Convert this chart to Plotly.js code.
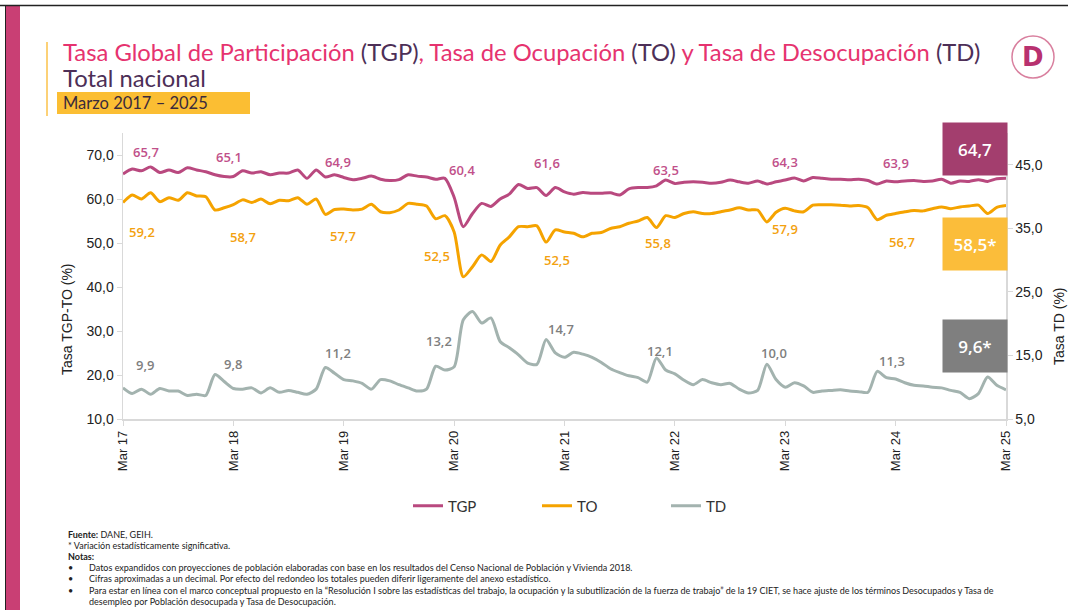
<!DOCTYPE html>
<html>
<head>
<meta charset="utf-8">
<script src="https://cdn.plot.ly/plotly-3.0.1.min.js"></script>
<style>
html,body{margin:0;padding:0;background:#fff;}
#chart{width:1068px;height:610px;}
</style>
</head>
<body>
<div id="chart"></div>
<script>
// ---------------- DATA ----------------
const monthNames = ['Ene','Feb','Mar','Abr','May','Jun','Jul','Ago','Sep','Oct','Nov','Dic'];
const startYear = 2017, startMonth = 2, nMonths = 97;   // Mar 2017 .. Mar 2025
const categories = [];
for (let k = 0; k < nMonths; k++) {
  const m = (startMonth + k) % 12;
  const y = startYear + Math.floor((startMonth + k) / 12);
  categories.push(monthNames[m] + ' ' + String(y).slice(2));
}
const tickLabels = ['Mar 17','Mar 18','Mar 19','Mar 20','Mar 21','Mar 22','Mar 23','Mar 24','Mar 25'];

const tgp = [
  65.7, 66.8, 66.4, 67.3, 66.0, 66.6, 66.0, 67.1, 66.6, 66.2, 65.5, 65.1,
  65.1, 66.4, 65.9, 66.2, 65.5, 65.9, 65.9, 66.6, 64.7, 66.6, 65.0, 65.5,
  64.9, 64.4, 64.7, 65.2, 64.5, 64.2, 64.4, 65.5, 65.2, 65.0, 64.5, 64.7,
  60.4, 53.7, 56.7, 59.0, 58.3, 60.0, 61.1, 63.3, 62.4, 62.6, 60.8, 62.6,
  61.6, 61.1, 61.5, 61.3, 61.3, 61.4, 60.9, 62.3, 62.6, 62.6, 63.0, 64.3,
  63.5, 63.8, 63.9, 63.8, 63.6, 63.8, 64.3, 63.9, 63.6, 64.1, 63.4, 63.9,
  64.3, 64.8, 64.1, 64.9, 64.7, 64.5, 64.5, 64.4, 64.5, 64.2, 63.4, 64.1,
  63.9, 64.1, 64.2, 64.0, 64.1, 64.5, 63.6, 64.1, 64.0, 64.4, 64.0, 64.6,
  64.7
];
const to = [
  59.2, 60.9, 60.0, 61.4, 59.4, 60.3, 59.7, 61.4, 60.7, 60.5, 57.5, 58.0,
  58.7, 59.8, 59.2, 60.0, 58.9, 59.7, 59.6, 60.3, 58.8, 60.0, 56.5, 57.6,
  57.7, 57.5, 57.7, 58.8, 57.1, 56.9, 57.5, 59.0, 58.8, 58.4, 55.5, 56.2,
  52.5, 42.3, 44.6, 47.3, 45.8, 49.5, 51.4, 53.7, 53.7, 53.9, 50.2, 53.0,
  52.5, 52.2, 51.4, 52.2, 52.4, 53.3, 53.7, 54.5, 55.0, 55.8, 53.5, 56.2,
  55.8, 56.7, 57.1, 56.7, 56.7, 57.1, 57.5, 58.0, 57.5, 57.5, 54.8, 57.0,
  57.9, 57.3, 57.1, 58.6, 58.7, 58.7, 58.6, 58.4, 58.5, 58.0, 55.3, 56.3,
  56.7, 57.1, 57.4, 57.3, 57.8, 58.2, 57.8, 58.2, 58.4, 58.6, 56.7, 58.1,
  58.5
];
const td = [
  9.9, 9.0, 9.7, 8.9, 9.8, 9.4, 9.4, 8.7, 8.9, 8.7, 12.0, 10.9,
  9.8, 9.7, 9.9, 9.1, 9.9, 9.2, 9.5, 9.2, 8.9, 9.7, 13.1, 12.2,
  11.2, 11.0, 10.6, 9.7, 11.2, 11.0, 10.4, 9.9, 9.4, 9.7, 13.3, 12.7,
  13.2, 20.6, 21.9, 20.1, 20.9, 17.2, 16.2, 15.1, 13.8, 13.6, 17.5, 15.4,
  14.7, 15.5, 15.2, 14.7, 13.9, 12.9, 12.3, 11.8, 11.5, 10.8, 14.6, 12.7,
  12.1, 11.1, 10.4, 11.2, 10.7, 10.4, 10.6, 9.7, 9.1, 9.5, 13.6, 11.2,
  10.0, 10.7, 10.2, 9.2, 9.4, 9.5, 9.6, 9.4, 9.3, 9.2, 12.5, 11.5,
  11.3, 10.7, 10.3, 10.2, 10.0, 9.9, 9.5, 9.2, 8.2, 9.0, 11.6, 10.3,
  9.6
];
const seriesNames = ['TGP','TO','TD'];
const significance = ['', '*', '*'];   // last-value marks
const labelMonths = ['Mar 17','Mar 18','Mar 19','Mar 20','Mar 21','Mar 22','Mar 23','Mar 24'];

// ---------------- STYLE ----------------
const C_TGP = '#b9497f', C_TO = '#f5a300', C_TD = '#a3b3af';
const C_TGP_LBL = '#c1508a', C_TO_LBL = '#f3a10f', C_TD_LBL = '#7f7f7f';
const W = 1068, H = 610, L = 123, R = 62, T = 133, B = 191;
const PW = W - L - R, PH = H - T - B;
const xp = px => (px - L) / PW;
const yp = py => (H - B - py) / PH;
const fmt = v => v.toFixed(1).replace('.', ',');

// label offsets (pixels) per labelled point
const tgpShift = [[23,22],[-4,20],[-6,15],[8,27],[-18,29],[-9,14],[0,18],[0,19]];
const toShift  = [[19,-29],[10,-32],[-1,-27],[-17,-24],[-8,-28],[-17,-26],[0,-21],[6,-28]];
const tdShift  = [[22,23],[0,24],[-6,27],[-15,26],[-4,28],[-15,23],[-11,34],[-4,18]];

const traces = [
  {x: categories, y: tgp, name: seriesNames[0], type: 'scatter', mode: 'lines',
   line: {color: C_TGP, width: 3, shape: 'spline', smoothing: 0.7}, yaxis: 'y'},
  {x: categories, y: to, name: seriesNames[1], type: 'scatter', mode: 'lines',
   line: {color: C_TO, width: 3, shape: 'spline', smoothing: 0.7}, yaxis: 'y'},
  {x: categories, y: td, name: seriesNames[2], type: 'scatter', mode: 'lines',
   line: {color: C_TD, width: 3, shape: 'spline', smoothing: 0.7}, yaxis: 'y2'}
];

const annotations = [];
const lblFont = (c) => ({family: 'Open Sans, sans-serif', size: 13, color: c, weight: 600});
labelMonths.forEach((m, k) => {
  const idx = categories.indexOf(m);
  annotations.push({x: m, y: tgp[idx], xref: 'x', yref: 'y', text: fmt(tgp[idx]), showarrow: false,
    xshift: tgpShift[k][0], yshift: tgpShift[k][1], font: lblFont(C_TGP_LBL)});
  annotations.push({x: m, y: to[idx], xref: 'x', yref: 'y', text: fmt(to[idx]), showarrow: false,
    xshift: toShift[k][0], yshift: toShift[k][1], font: lblFont(C_TO_LBL)});
  annotations.push({x: m, y: td[idx], xref: 'x', yref: 'y2', text: fmt(td[idx]), showarrow: false,
    xshift: tdShift[k][0], yshift: tdShift[k][1], font: lblFont(C_TD_LBL)});
});

// last value boxes
const lastVals = [tgp[tgp.length-1], to[to.length-1], td[td.length-1]];
const boxColors = ['#a33e6e', '#fbbd3a', '#7f7f7f'];
const boxCenters = [149, 243.5, 345.5];
lastVals.forEach((v, k) => {
  annotations.push({xref: 'paper', yref: 'paper', x: xp(975), y: yp(boxCenters[k]),
    xanchor: 'center', yanchor: 'middle', text: fmt(v) + significance[k], showarrow: false,
    bgcolor: boxColors[k], width: 60, height: 48, borderpad: 2,
    font: {family: 'Open Sans, sans-serif', size: 17, color: '#ffffff', weight: 600}});
});

// axis titles
annotations.push({xref: 'paper', yref: 'paper', x: xp(67), y: yp(319), xanchor: 'center', yanchor: 'middle',
  text: 'Tasa TGP-TO (%)', textangle: -90, showarrow: false,
  font: {family: 'Liberation Sans, Arial, sans-serif', size: 14, color: '#222'}});
annotations.push({xref: 'paper', yref: 'paper', x: xp(1059), y: yp(326), xanchor: 'center', yanchor: 'middle',
  text: 'Tasa TD (%)', textangle: -90, showarrow: false,
  font: {family: 'Liberation Sans, Arial, sans-serif', size: 14, color: '#222'}});

// titles
const pink = '#e6336f', dark = '#4d2f57';
annotations.push({xref: 'paper', yref: 'paper', x: xp(61), y: yp(52), xanchor: 'left', yanchor: 'middle',
  showarrow: false, font: {family: 'Lato, sans-serif', size: 23.8, color: pink},
  text: 'Tasa Global de Participación <span style="color:' + dark + '">(TGP)</span>, Tasa de Ocupación <span style="color:' + dark + '">(TO)</span> y Tasa de Desocupación <span style="color:' + dark + '">(TD)</span>'});
annotations.push({xref: 'paper', yref: 'paper', x: xp(61), y: yp(78), xanchor: 'left', yanchor: 'middle',
  showarrow: false, font: {family: 'Lato, sans-serif', size: 23.8, color: dark}, text: 'Total nacional'});
annotations.push({xref: 'paper', yref: 'paper', x: xp(61), y: yp(103), xanchor: 'left', yanchor: 'middle',
  showarrow: false, font: {family: 'Lato, sans-serif', size: 16.5, color: '#3a2a3c'}, text: 'Marzo 2017 – 2025'});
// logo
annotations.push({xref: 'paper', yref: 'paper', x: xp(1033), y: yp(57), xanchor: 'center', yanchor: 'middle',
  showarrow: false, font: {family: 'DejaVu Sans, sans-serif', size: 26, color: '#b8316f', weight: 700}, text: 'D'});

// footnotes
const fnFont = {family: 'Lato, sans-serif', size: 9, color: '#222'};
const notes = [
  [66, 534, '<b>Fuente:</b> DANE, GEIH.'],
  [66, 545, '* Variación estadísticamente significativa.'],
  [66, 556, '<b>Notas:</b>'],
  [87, 567, 'Datos expandidos con proyecciones de población elaboradas con base en los resultados del Censo Nacional de Población y Vivienda 2018.'],
  [87, 578, 'Cifras aproximadas a un decimal. Por efecto del redondeo los totales pueden diferir ligeramente del anexo estadístico.'],
  [87, 590, 'Para estar en línea con el marco conceptual propuesto en la “Resolución I sobre las estadísticas del trabajo, la ocupación y la subutilización de la fuerza de trabajo” de la 19 CIET, se hace ajuste de los términos Desocupados y Tasa de'],
  [87, 601, 'desempleo por Población desocupada y Tasa de Desocupación.']
];
notes.forEach(n => annotations.push({xref: 'paper', yref: 'paper', x: xp(n[0]), y: yp(n[1]), xanchor: 'left',
  yanchor: 'middle', showarrow: false, font: fnFont, text: n[2]}));
[567, 578, 590].forEach(py => annotations.push({xref: 'paper', yref: 'paper', x: xp(66), y: yp(py),
  xanchor: 'left', yanchor: 'middle', showarrow: false, font: fnFont, text: '•'}));

const shapes = [
  // page frame
  {type: 'rect', xref: 'paper', yref: 'paper', x0: xp(6), x1: xp(20), y0: yp(610), y1: yp(6),
   fillcolor: '#c93f74', line: {width: 0}, layer: 'below'},
  {type: 'line', xref: 'paper', yref: 'paper', x0: xp(0), x1: xp(1068), y0: yp(5.5), y1: yp(5.5),
   line: {color: '#222', width: 1.5}},
  {type: 'line', xref: 'paper', yref: 'paper', x0: xp(5.5), x1: xp(5.5), y0: yp(5.5), y1: yp(610),
   line: {color: '#222', width: 1}},
  // title accent line
  {type: 'line', xref: 'paper', yref: 'paper', x0: xp(47), x1: xp(47), y0: yp(42), y1: yp(116),
   line: {color: '#fbc24a', width: 1.5}},
  // subtitle box
  {type: 'rect', xref: 'paper', yref: 'paper', x0: xp(57), x1: xp(250), y0: yp(114), y1: yp(92),
   fillcolor: '#fbbe33', line: {width: 0}, layer: 'below'},
  // logo circle
  {type: 'circle', xref: 'paper', yref: 'paper', x0: xp(1012), x1: xp(1054), y0: yp(78), y1: yp(36),
   line: {color: '#d9809f', width: 1.5}}
];

const layout = {
  width: W, height: H,
  margin: {l: L, r: R, t: T, b: B, pad: 0},
  paper_bgcolor: '#ffffff', plot_bgcolor: '#ffffff',
  separators: ',.',
  showlegend: true,
  legend: {orientation: 'h', x: xp(408), y: yp(506), xanchor: 'left', yanchor: 'middle',
    font: {family: 'Lato, sans-serif', size: 15, color: '#333'}, entrywidth: 84, entrywidthmode: 'pixels',
    itemwidth: 30, bgcolor: 'rgba(0,0,0,0)'},
  xaxis: {type: 'category', tickvals: tickLabels, ticktext: tickLabels, tickangle: -90,
    showgrid: false, zeroline: false, showline: true, linecolor: '#d9d9d9', linewidth: 1.5,
    ticks: 'outside', ticklen: 5, tickcolor: '#d9d9d9',
    tickfont: {family: 'Liberation Sans, Arial, sans-serif', size: 13, color: '#222'}},
  yaxis: {range: [10, 75], tickvals: [10,20,30,40,50,60,70], tickformat: '.1f',
    showgrid: false, zeroline: false, showline: true, linecolor: '#d9d9d9', linewidth: 1.5,
    ticks: 'outside', ticklen: 5, tickcolor: '#d9d9d9',
    tickfont: {family: 'Liberation Sans, Arial, sans-serif', size: 14, color: '#222'}},
  yaxis2: {range: [5, 50], tickvals: [5,15,25,35,45], tickformat: '.1f', overlaying: 'y', side: 'right',
    showgrid: false, zeroline: false, showline: true, linecolor: '#d9d9d9', linewidth: 1.5,
    ticks: 'outside', ticklen: 5, tickcolor: '#d9d9d9',
    tickfont: {family: 'Liberation Sans, Arial, sans-serif', size: 14, color: '#222'}},
  annotations: annotations,
  shapes: shapes
};

Plotly.newPlot('chart', traces, layout, {displayModeBar: false, staticPlot: true});
</script>
</body>
</html>
